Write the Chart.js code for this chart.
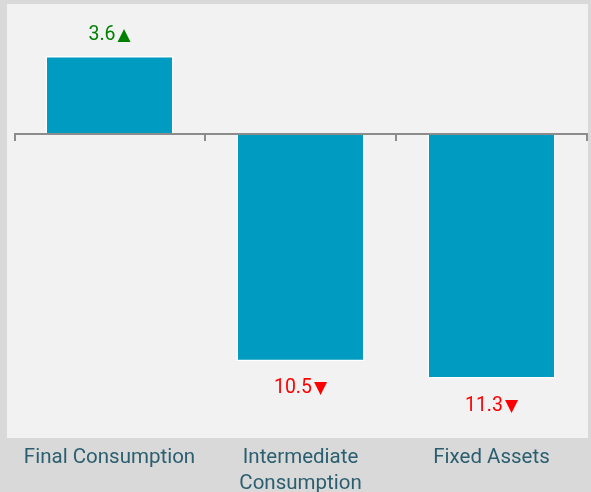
<!DOCTYPE html>
<html><head><meta charset="utf-8">
<script src="https://cdn.jsdelivr.net/npm/chart.js@4.4.1/dist/chart.umd.min.js"></script>
<style>html,body{margin:0;padding:0;background:#d9d9d9;}#wrap{width:591px;height:492px;}</style>
</head><body><div id="wrap"><canvas id="c" width="591" height="492"></canvas></div>
<script>
const categories = [["Final Consumption"], ["Intermediate", "Consumption"], ["Fixed Assets"]];
const values = [3.6, -10.5, -11.3];
const yMin = -14, yMax = 6;

const bgPlugin = {
  id: 'bg',
  beforeDraw(chart) {
    const ctx = chart.ctx, a = chart.chartArea;
    ctx.save();
    ctx.fillStyle = '#d9d9d9';
    ctx.fillRect(0, 0, chart.width, chart.height);
    ctx.fillStyle = '#f2f2f2';
    ctx.fillRect(a.left - 7, a.top, a.right - a.left + 8, a.bottom - a.top + 1);
    ctx.restore();
  },
  afterDatasetsDraw(chart) {
    const ctx = chart.ctx, a = chart.chartArea;
    const y = chart.scales.y;
    const y0 = y.getPixelForValue(0);
    ctx.save();
    ctx.strokeStyle = '#8c8c8c';
    ctx.lineWidth = 2;
    ctx.beginPath();
    ctx.moveTo(a.left, y0); ctx.lineTo(a.right + 1, y0);
    const n = categories.length;
    for (let i = 0; i <= n; i++) {
      const px = a.left + (a.right - a.left) * i / n;
      const xx = i === 0 ? px + 1 : px;
      ctx.moveTo(xx, y0); ctx.lineTo(xx, y0 + 7);
    }
    ctx.stroke();
    // data labels
    const meta = chart.getDatasetMeta(0);
    ctx.textAlign = 'left';
    ctx.textBaseline = 'alphabetic';
    meta.data.forEach((bar, i) => {
      const v = values[i];
      const num = Math.abs(v).toFixed(1);
      const arrow = v >= 0 ? '\u25B2' : '\u25BC';
      ctx.font = '19.5px Roboto';
      const wn = ctx.measureText(num).width;
      ctx.font = '17px "DejaVu Sans"';
      const wa = ctx.measureText(arrow).width;
      const gap = 2;
      const x0 = bar.x - (wn + gap + wa) / 2;
      const by = v >= 0 ? bar.y - 16 : bar.y + 32;
      ctx.fillStyle = v >= 0 ? '#008000' : '#ff0000';
      ctx.font = '19.5px Roboto';
      ctx.fillText(num, x0, by);
      ctx.font = '17px "DejaVu Sans"';
      ctx.fillText(arrow, x0 + wn + gap, by);
    });
    ctx.restore();
  }
};

new Chart(document.getElementById('c'), {
  type: 'bar',
  data: {
    labels: categories,
    datasets: [{
      data: values,
      backgroundColor: '#009bc0',
      borderColor: '#ffffff',
      borderWidth: 1.5,
      categoryPercentage: 1,
      barPercentage: 0.67
    }]
  },
  plugins: [bgPlugin],
  options: {
    responsive: false,
    animation: false,
    devicePixelRatio: 1,
    layout: { padding: { left: 14, right: 4, top: 4, bottom: 0 } },
    plugins: { legend: { display: false }, tooltip: { enabled: false } },
    scales: {
      x: {
        grid: { display: false, drawTicks: false },
        border: { display: false },
        ticks: { color: '#2b5f6f', font: { family: 'Roboto', size: 20.5, lineHeight: 1.27 }, padding: 8, maxRotation: 0, autoSkip: false },
        afterFit(s) { s.height = 55; }
      },
      y: {
        display: false,
        min: yMin, max: yMax
      }
    }
  }
});
</script></body></html>
